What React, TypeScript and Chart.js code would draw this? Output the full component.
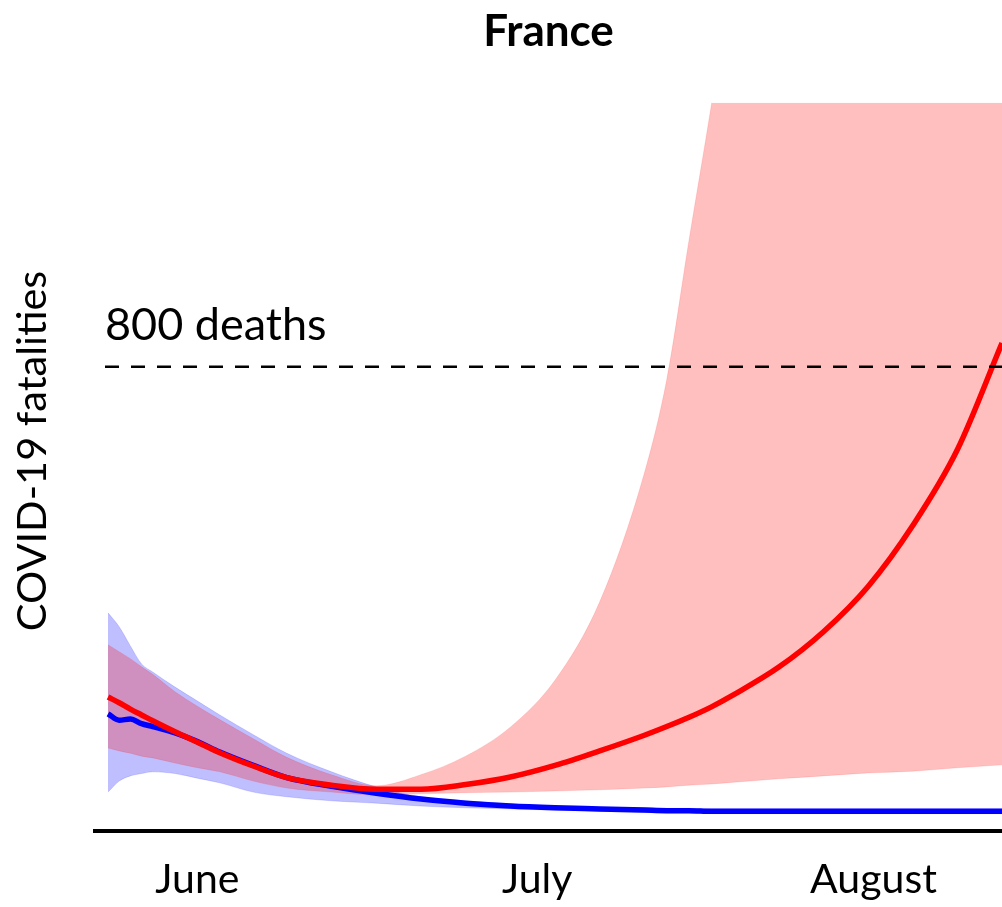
import React, { useEffect, useRef } from 'react';
import { Chart, registerables } from 'chart.js';

Chart.register(...registerables);

// ---- Data (x = days since start of projection) ----
const days = [0, 1, 2, 3, 4, 6, 8, 10, 13, 16, 20, 24, 28, 32, 36, 40, 44, 48, 50, 52, 54, 56, 60, 64, 68, 72, 76, 80];

const redMean = [231, 221, 210, 200, 190, 171, 153, 135, 112, 92, 79, 72, 72, 80, 93, 113, 138, 165, 180, 196, 214, 235, 282, 343, 421, 526, 657, 841];
const redUpper = [321, 309, 297, 283, 270, 240, 215, 192, 159, 127, 97, 78, 97, 129, 179, 260, 395, 617, 778, 1019, 1252, 1500, 2000, 2600, 3300, 4100, 5000, 6000];
const redLower = [143, 138, 134, 129, 126, 117, 109, 102, 86, 74, 67, 62, 64, 66, 67, 69, 71, 74, 76, 79, 81, 84, 90, 95, 100, 103, 109, 114];

const blueMean = [202, 191, 193, 185, 180, 169, 154, 136, 113, 92, 77, 65, 55, 48, 43, 40, 38, 36, 35, 35, 34, 34, 34, 34, 34, 34, 34, 34];
const blueUpper = [376, 352, 319, 288, 274, 248, 224, 200, 166, 134, 102, 76, 59, 52, 47, 43, 41, 40, 39, 39, 38, 38, 38, 38, 38, 38, 38, 38];
const blueLower = [67, 86, 95, 99, 102, 99, 91, 83, 67, 59, 52, 48, 43, 40, 38, 36, 34, 32, 31, 31, 30, 30, 30, 30, 30, 30, 30, 30];

const thresholdValue = 800;
const thresholdLabel = '800 deaths';
const thresholdStartDay = -0.27;

const monthTickDays = [8, 38.4, 68.5];
const monthLabels = ['June', 'July', 'August'];

const chartTitle = 'France';
const yTitle = 'COVID-19 fatalities';

const FONT = 'Lato, "Open Sans", sans-serif';

const pts = (ys: number[]) => days.map((d, i) => ({ x: d, y: ys[i] }));

const textPlugin = {
  id: 'customText',
  afterDatasetsDraw(chart: any) {
    const { ctx, chartArea, scales } = chart;
    const y = scales.y.getPixelForValue(thresholdValue);
    const x = scales.x.getPixelForValue(thresholdStartDay);
    ctx.save();
    ctx.fillStyle = '#000';
    ctx.font = `45px ${FONT}`;
    ctx.textAlign = 'left';
    ctx.textBaseline = 'alphabetic';
    ctx.fillText(thresholdLabel, x, y - 27);
    ctx.font = `41.5px ${FONT}`;
    ctx.translate(chartArea.left - 62, (chartArea.top + chartArea.bottom) / 2 - 16);
    ctx.rotate(-Math.PI / 2);
    ctx.textAlign = 'center';
    ctx.textBaseline = 'middle';
    ctx.fillText(yTitle, 0, 0);
    ctx.restore();
  },
};

export default function App() {
  const canvasRef = useRef<HTMLCanvasElement | null>(null);

  useEffect(() => {
    if (!canvasRef.current) return;
    const bandLine = (color: string, ys: number[], fill: any, bg?: string) => ({
      data: pts(ys),
      borderColor: color,
      backgroundColor: bg,
      borderWidth: 1,
      pointRadius: 0,
      cubicInterpolationMode: 'monotone' as const,
      fill,
    });
    const chart = new Chart(canvasRef.current, {
      type: 'line',
      data: {
        datasets: [
          {
            label: 'threshold',
            data: [
              { x: thresholdStartDay, y: thresholdValue },
              { x: days[days.length - 1], y: thresholdValue },
            ],
            borderColor: '#000',
            borderWidth: 2.5,
            borderDash: [14, 12],
            pointRadius: 0,
            fill: false,
          },
          {
            label: 'red mean',
            data: pts(redMean),
            borderColor: '#ff0000',
            borderWidth: 5.5,
            pointRadius: 0,
            cubicInterpolationMode: 'monotone',
            fill: false,
          },
          {
            label: 'blue mean',
            data: pts(blueMean),
            borderColor: '#0000ff',
            borderWidth: 5.5,
            pointRadius: 0,
            cubicInterpolationMode: 'monotone',
            fill: false,
          },
          { label: 'red upper', ...bandLine('rgba(255,0,0,0.12)', redUpper, false) },
          { label: 'red lower', ...bandLine('rgba(255,0,0,0.12)', redLower, '-1', 'rgba(255,0,0,0.25)') },
          { label: 'blue upper', ...bandLine('rgba(0,0,255,0.15)', blueUpper, false) },
          { label: 'blue lower', ...bandLine('rgba(0,0,255,0.15)', blueLower, '-1', 'rgba(0,0,255,0.25)') },
        ],
      },
      options: {
        animation: false,
        responsive: true,
        maintainAspectRatio: false,
        events: [],
        layout: { padding: { left: 95, right: 0, top: 0, bottom: 0 } },
        plugins: {
          legend: { display: false },
          tooltip: { enabled: false },
          title: {
            display: true,
            text: chartTitle,
            fullSize: false,
            color: '#000',
            font: { family: FONT, size: 44, weight: 'bold' },
            padding: { top: 5, bottom: 45 },
          },
        },
        scales: {
          x: {
            type: 'linear',
            min: -1.163,
            max: 80,
            grid: { display: false, drawTicks: false },
            border: { display: true, color: '#000', width: 4 },
            afterBuildTicks: (scale: any) => {
              scale.ticks = monthTickDays.map((v) => ({ value: v }));
            },
            afterFit: (scale: any) => {
              scale.height = 76;
            },
            ticks: {
              autoSkip: false,
              maxRotation: 0,
              padding: 24,
              color: '#000',
              font: { family: FONT, size: 41 },
              callback: (_v: any, i: number) => monthLabels[i],
            },
          },
          y: {
            type: 'linear',
            display: false,
            min: 0,
            max: 1255,
          },
        },
      },
      plugins: [textPlugin],
    });
    return () => chart.destroy();
  }, []);

  return (
    <div style={{ position: 'absolute', left: 0, top: 0, width: 1002, height: 907, background: '#fff' }}>
      <canvas ref={canvasRef} />
    </div>
  );
}
